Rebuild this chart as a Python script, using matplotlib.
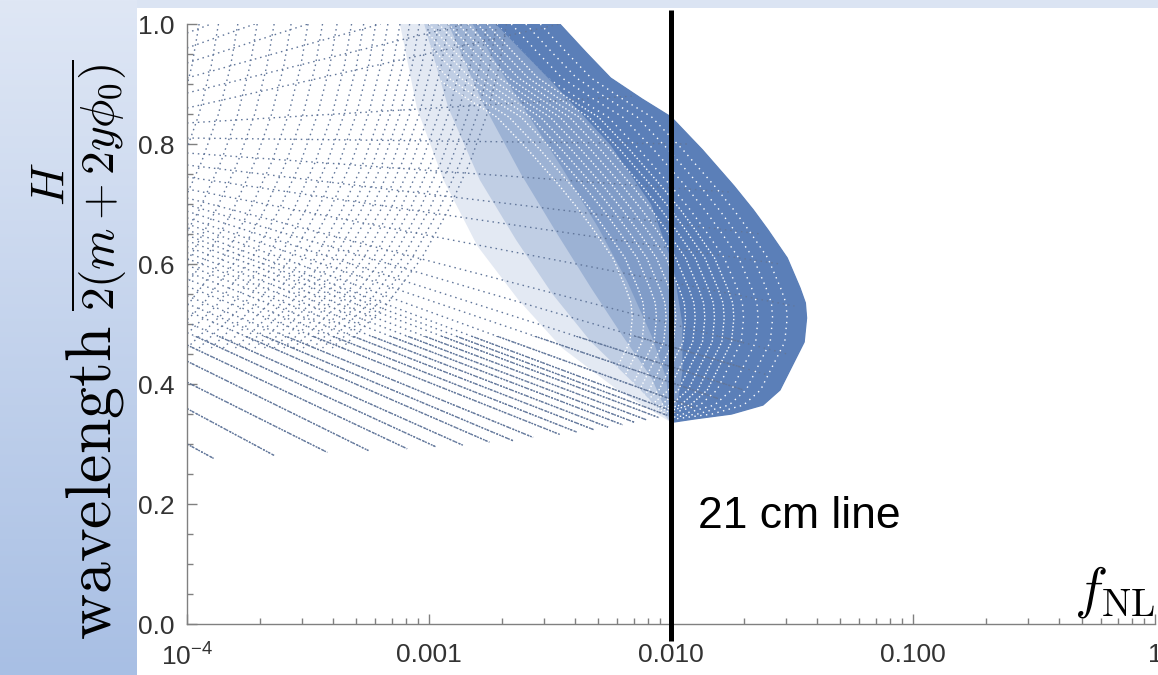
import numpy as np
import matplotlib.pyplot as plt
from matplotlib.colors import LinearSegmentedColormap
from matplotlib.patches import Polygon, Rectangle
from matplotlib.ticker import LogLocator, MultipleLocator, NullFormatter

plt.rcParams['mathtext.fontset'] = 'cm'
plt.rcParams['font.family'] = ['Liberation Sans', 'DejaVu Sans']

# outline of the scanned region: log10(fNL) and wavelength H/(2(m+2y phi0))
env_log_fnl = [-4.0, -2.46, -2.35, -2.25, -2.12, -2.0, -1.87, -1.74, -1.66, -1.60, -1.52,
               -1.467, -1.445, -1.44, -1.45, -1.50, -1.55, -1.62, -1.75, -1.9, -2.0, -2.2,
               -2.46, -2.8, -3.1, -3.4, -3.64, -3.89, -4.0]
env_wl = [1.0, 1.0, 0.952, 0.91, 0.875, 0.845, 0.79, 0.73, 0.69, 0.657, 0.61,
          0.56, 0.535, 0.51, 0.47, 0.43, 0.39, 0.365, 0.35, 0.342, 0.336, 0.326,
          0.312, 0.297, 0.289, 0.283, 0.278, 0.272, 0.27]

# inner edges of the blue part, from the solid core to the faintest shade
solid_log_fnl = [-2.72, -2.48, -2.25, -2.08, -1.99, -1.95, -1.95, -1.97, -2.0]
solid_wl = [1.0, 0.9, 0.8, 0.7, 0.6, 0.5, 0.42, 0.37, 0.336]
shade_log_fnl = [
    [-2.82, -2.64, -2.45, -2.3, -2.18, -2.08, -2.02, -2.0],
    [-2.92, -2.78, -2.62, -2.47, -2.33, -2.2, -2.08, -2.0],
    [-3.02, -2.92, -2.79, -2.64, -2.49, -2.33, -2.15, -2.0],
    [-3.12, -3.05, -2.94, -2.8, -2.63, -2.45, -2.22, -2.0],
]
shade_wl = [
    [1.0, 0.88, 0.76, 0.66, 0.57, 0.48, 0.41, 0.336],
    [1.0, 0.87, 0.75, 0.65, 0.56, 0.48, 0.41, 0.336],
    [1.0, 0.86, 0.74, 0.64, 0.55, 0.47, 0.40, 0.336],
    [1.0, 0.86, 0.74, 0.63, 0.54, 0.46, 0.39, 0.336],
]
shade_alpha = [0.42, 0.35, 0.25, 0.17]

# white gaps in the blue part, as shifts of the outer edge in log10(fNL)
gap_shift = [-0.08, -0.14, -0.2, -0.26]
hatch_shift = [-0.3, -0.34, -0.38, -0.42, -0.46, -0.5, -0.54, -0.58, -0.62, -0.67, -0.72]

# point rows starting at the left edge
ray_wl_left = [0.300, 0.359, 0.403, 0.438, 0.465, 0.486, 0.503, 0.522, 0.534, 0.547,
               0.563, 0.575, 0.587, 0.598, 0.609, 0.619, 0.629, 0.639, 0.648, 0.657,
               0.667, 0.677, 0.688, 0.699, 0.71, 0.725, 0.745, 0.765, 0.785, 0.81,
               0.835, 0.86, 0.885, 0.91, 0.935, 0.96, 0.985]
ray_end_log_fnl = [-3.89, -3.64, -3.42, -3.25, -3.09, -2.97, -2.86, -2.75, -2.65, -2.57,
                   -2.46, -2.39, -2.32, -2.26, -2.20, -2.15, -2.10, -2.05, -2.01, -1.97,
                   -1.90, -1.80, -1.70, -1.60, -1.52, -1.49, -1.55, -1.63, -1.76, -1.93,
                   -2.15, -2.46, -2.85, -3.2, -3.5, -3.72, -3.9]
ray_end_wl = [0.276, 0.281, 0.286, 0.289, 0.292, 0.295, 0.298, 0.303, 0.305, 0.311,
              0.316, 0.320, 0.324, 0.328, 0.332, 0.336, 0.340, 0.344, 0.347, 0.351,
              0.36, 0.375, 0.39, 0.415, 0.45, 0.53, 0.60, 0.65, 0.72, 0.80,
              0.88, 1.0, 1.0, 1.0, 1.0, 1.0, 1.0]
dense_rows_below = 0.48

# arcs hanging from the top edge and bending to the left
arc_dlog = [0.0, -0.03, -0.08, -0.15, -0.24, -0.35, -0.5, -0.68]
arc_wl = [1.0, 0.93, 0.85, 0.77, 0.69, 0.61, 0.53, 0.46]
arc_top_log_fnl = [-3.95, -3.87, -3.79, -3.71, -3.64, -3.57, -3.50, -3.44, -3.38, -3.32,
                   -3.27, -3.22, -3.17, -3.12, -3.08, -3.04, -3.0, -2.96, -2.92, -2.88,
                   -2.84, -2.8, -2.76, -2.72, -2.68]

xticks = [1e-4, 1e-3, 1e-2, 1e-1, 1]
xticklabels = [r'$\mathregular{10^{-4}}$', '0.001', '0.010', '0.100', '1']
yticks = [0.0, 0.2, 0.4, 0.6, 0.8, 1.0]
line_fnl = 0.01

blue = '#5b7fb8'
dot = '#61769a'

fig = plt.figure(figsize=(11.58, 6.75), dpi=100)
fig.patch.set_facecolor('#dbe4f3')

# slide background: gradient strip on the left, white panel
strip = fig.add_axes([0, 0, 137 / 1158, 1])
strip.imshow(np.linspace(0, 1, 256)[:, None], aspect='auto', extent=[0, 1, 0, 1],
             cmap=LinearSegmentedColormap.from_list('g', ['#dfe7f5', '#a8bfe4']))
strip.axis('off')
fig.patches.append(Rectangle((137 / 1158, 0), 1, 667 / 675, transform=fig.transFigure,
                             facecolor='white', edgecolor='none', zorder=-1))

ax = fig.add_axes([187 / 1158, 51 / 675, 968 / 1158, 600 / 675])
ax.set_facecolor('none')
ax.set_xscale('log')
ax.set_xlim(1e-4, 1)
ax.set_ylim(0, 1)

env = Polygon(np.column_stack([10 ** np.array(env_log_fnl), env_wl]), closed=True,
              facecolor='none', edgecolor='none')
ax.add_patch(env)
low = Rectangle((1e-4, 0.2), 0.02, dense_rows_below - 0.2, facecolor='none',
                edgecolor='none')
ax.add_patch(low)

for yl, xe, ye in zip(ray_wl_left, ray_end_log_fnl, ray_end_wl):
    ln, = ax.plot([1e-4, 10 ** xe], [yl, ye], color=dot, lw=1.0,
                  linestyle=(0, (1.1, 2.8)))
    ln.set_clip_path(env)
    ln, = ax.plot([1e-4, 10 ** xe], [yl, ye], color=dot, lw=1.0,
                  linestyle=(0, (1.4, 0.9)))
    ln.set_clip_path(low)

for xt in arc_top_log_fnl:
    ln, = ax.plot(10 ** (xt + np.array(arc_dlog)), arc_wl, color=dot, lw=1.0,
                  linestyle=(0, (1.1, 2.6)))
    ln.set_clip_path(env)

# blue part: shades fading away from the outer edge
outer_x = env_log_fnl[1:21]
outer_y = env_wl[1:21]


def zone(inner_x, inner_y):
    xs = 10 ** np.array(outer_x + inner_x[::-1])
    return np.column_stack([xs, outer_y + inner_y[::-1]])


shades = []
for sx, sy, a in zip(shade_log_fnl[::-1], shade_wl[::-1], shade_alpha[::-1]):
    p = Polygon(zone(sx, sy), facecolor=blue, edgecolor='none', alpha=a)
    ax.add_patch(p)
    shades.append(p)
solid = Polygon(zone(solid_log_fnl, solid_wl), facecolor=blue, edgecolor=blue, lw=1.0)
ax.add_patch(solid)

for s in hatch_shift:
    ln, = ax.plot(10 ** (np.array(outer_x) + s), outer_y, color='white', lw=1.0,
                  linestyle=(0, (1.0, 1.6)))
    ln.set_clip_path(shades[1])
for s in gap_shift:
    ln, = ax.plot(10 ** (np.array(outer_x) + s), outer_y, color='white', lw=1.0,
                  linestyle=(0, (1.0, 3.2)))
    ln.set_clip_path(solid)

# 21 cm line
ax.plot([line_fnl, line_fnl], [-0.028, 1.023], color='black', lw=3.6, clip_on=False,
        solid_capstyle='butt', zorder=5)
ax.text(0.0129, 0.16, '21 cm line', fontsize=32, color='black', ha='left',
        va='baseline')

for s in ['top', 'right']:
    ax.spines[s].set_visible(False)
for s in ['left', 'bottom']:
    ax.spines[s].set_color('#808080')
    ax.spines[s].set_linewidth(1.0)

ax.set_xticks(xticks, xticklabels)
ax.set_yticks(yticks, [f'{v:.1f}' for v in yticks])
ax.xaxis.set_minor_locator(LogLocator(base=10, subs=np.arange(2, 10)))
ax.xaxis.set_minor_formatter(NullFormatter())
ax.yaxis.set_minor_locator(MultipleLocator(0.05))
ax.tick_params(which='both', direction='in', color='#808080', width=1.0,
               labelsize=19, labelcolor='#333333')
ax.tick_params(which='major', length=7)
ax.tick_params(which='minor', length=4)
ax.tick_params(axis='x', pad=14)
ax.tick_params(axis='y', pad=9)

fig.text(1074 / 1158, 0.102, r'$f_{\rm NL}$', fontsize=40, ha='left', va='baseline')

fig.text(0.082, 0.285, r'$\mathrm{wavelength}$', fontsize=46, rotation=90,
         ha='center', va='center')
fig.text(0.068, 0.725, r'$\dfrac{H}{2(m+2y\phi_0)}$', fontsize=34, rotation=90,
         ha='center', va='center')

fig.savefig('out.png', dpi=100)
